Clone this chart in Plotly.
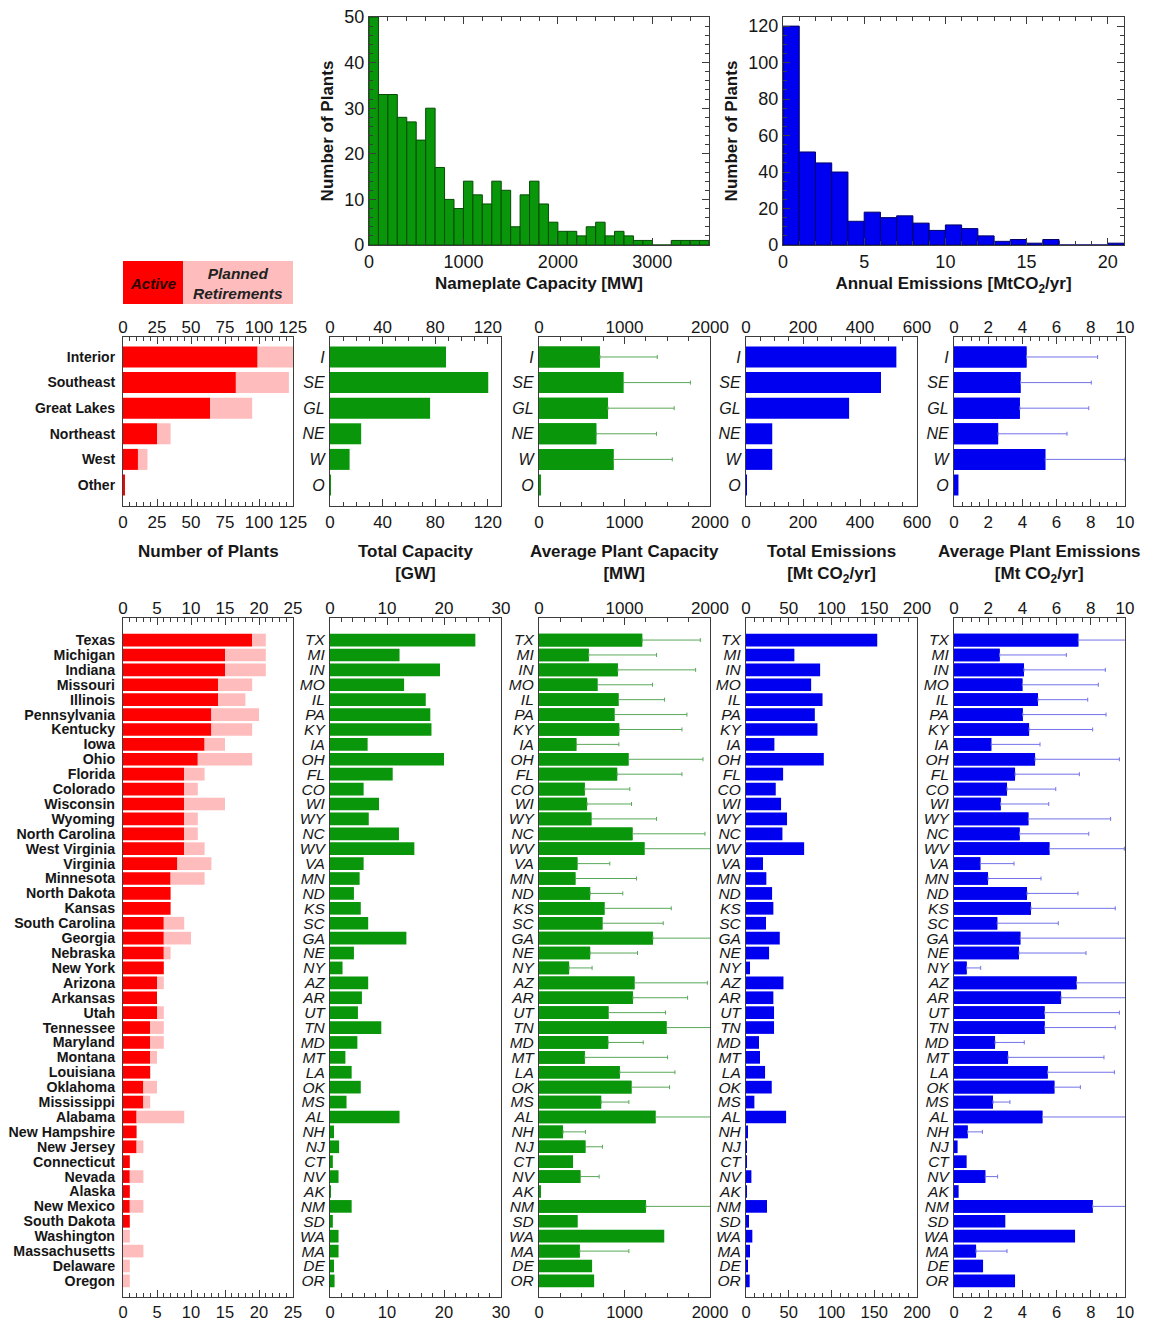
import numpy as np
import plotly.graph_objects as go

W, H = 1156, 1321

# ---------------- histogram data ----------------
cap_counts = [50, 33, 33, 28, 27, 23, 30, 17, 10, 8, 14, 11, 9, 14, 12, 4, 11, 14, 9, 5,
              3, 3, 2, 4, 5, 2, 3, 2, 1, 1, 0, 0, 1, 1, 1, 1]
cap_bin_width = 100          # MW
emis_counts = [120, 51, 45, 40, 13, 18, 15, 16, 12, 8, 11, 9, 5, 2, 3, 1, 3, 0, 0, 0, 1]
emis_bin_width = 1           # MtCO2/yr

# ---------------- regional summary ----------------
regions = ["Interior", "Southeast", "Great Lakes", "Northeast", "West", "Other"]
region_abbr = ["I", "SE", "GL", "NE", "W", "O"]
region_active = [99, 83, 64, 25, 11, 1]
region_retiring = [26, 39, 31, 10, 7, 0]
region_capacity_gw = [88.2, 120.3, 76.1, 23.7, 14.9, 0.1]
region_avg_cap = [713, 987, 806, 670, 872, 20]
region_avg_cap_sd = [670, 784, 775, 704, 687, None]
region_emissions = [527.6, 473.7, 361.8, 92.1, 92.1, 0.3]
region_avg_emis = [4.24, 3.89, 3.85, 2.58, 5.34, 0.26]
region_avg_emis_sd = [4.16, 4.14, 4.03, 4.03, 4.66, None]

# ---------------- state summary ----------------
states = ["Texas", "Michigan", "Indiana", "Missouri", "Illinois", "Pennsylvania", "Kentucky",
          "Iowa", "Ohio", "Florida", "Colorado", "Wisconsin", "Wyoming", "North Carolina",
          "West Virginia", "Virginia", "Minnesota", "North Dakota", "Kansas", "South Carolina",
          "Georgia", "Nebraska", "New York", "Arizona", "Arkansas", "Utah", "Tennessee",
          "Maryland", "Montana", "Louisiana", "Oklahoma", "Mississippi", "Alabama",
          "New Hampshire", "New Jersey", "Connecticut", "Nevada", "Alaska", "New Mexico",
          "South Dakota", "Washington", "Massachusetts", "Delaware", "Oregon"]
state_abbr = ["TX", "MI", "IN", "MO", "IL", "PA", "KY", "IA", "OH", "FL", "CO", "WI", "WY", "NC",
              "WV", "VA", "MN", "ND", "KS", "SC", "GA", "NE", "NY", "AZ", "AR", "UT", "TN", "MD",
              "MT", "LA", "OK", "MS", "AL", "NH", "NJ", "CT", "NV", "AK", "NM", "SD", "WA", "MA",
              "DE", "OR"]
state_active = [19, 15, 15, 14, 14, 13, 13, 12, 11, 9, 9, 9, 9, 9, 9, 8, 7, 7, 7, 6, 6, 6,
                6, 5, 5, 5, 4, 4, 4, 4, 3, 3, 2, 2, 2, 1, 1, 1, 1, 1, 0, 0, 0, 0]
state_retiring = [2, 6, 6, 5, 4, 7, 6, 3, 8, 3, 2, 6, 2, 2, 3, 5, 5, 0, 0, 3, 4, 1,
                  0, 1, 0, 1, 2, 2, 1, 0, 2, 1, 7, 0, 1, 0, 2, 0, 2, 0, 1, 3, 1, 1]
state_capacity_gw = [25.5, 12.2, 19.3, 13.0, 16.8, 17.6, 17.8, 6.6, 20.0, 11.0, 5.9, 8.6, 6.8,
                     12.1, 14.8, 5.9, 5.2, 4.2, 5.4, 6.7, 13.4, 4.2, 2.2, 6.7, 5.6, 4.9, 9.0,
                     4.8, 2.7, 3.8, 5.4, 2.9, 12.2, 0.7, 1.6, 0.5, 1.5, 0.05, 3.8, 0.5, 1.5,
                     1.5, 0.7, 0.8]
state_avg_cap = [1207, 582, 922, 684, 930, 883, 938, 437, 1047, 914, 535, 562, 613, 1094, 1234,
                 449, 426, 598, 766, 742, 1332, 598, 352, 1117, 1098, 813, 1492, 809, 535, 945,
                 1082, 727, 1363, 281, 543, 398, 484, 20, 1250, 453, 1465, 477, 621, 645]
state_avg_cap_sd = [680, 793, 910, 644, 539, 847, 734, 497, 871, 758, 527, 520, 762, 847, 780,
                    379, 715, 382, 781, 711, 800, 554, 269, 852, 640, 667, 700, 410, 969, 645,
                    445, 324, 750, 262, 199, None, 219, None, 800, None, None, 574, None, None]
state_emissions = [153.5, 56.6, 86.7, 76.2, 89.5, 80.5, 83.6, 33.2, 91.0, 43.4, 34.8, 41.0,
                   48.0, 42.6, 68.0, 19.9, 23.8, 30.5, 32.0, 23.4, 39.5, 27.0, 4.7, 43.8, 32.0,
                   32.8, 32.8, 15.2, 16.4, 22.3, 30.1, 9.8, 46.9, 2.0, 0.4, 0.1, 6.3, 0.2, 24.6,
                   3.5, 7.4, 4.7, 2.0, 4.3]
state_avg_emis = [7.27, 2.67, 4.09, 4.00, 4.91, 4.02, 4.39, 2.18, 4.74, 3.57, 3.10, 2.73, 4.35,
                  3.84, 5.58, 1.54, 1.99, 4.27, 4.50, 2.53, 3.88, 3.80, 0.74, 7.17, 6.26, 5.30,
                  5.30, 2.40, 3.16, 5.48, 5.87, 2.28, 5.17, 0.80, 0.21, 0.74, 1.83, 0.27, 8.11,
                  3.00, 7.08, 1.29, 1.70, 3.57]
state_avg_emis_sd = [3.2, 3.90, 4.76, 4.44, 2.91, 4.87, 3.72, 2.85, 4.93, 3.76, 2.85, 2.81,
                     4.81, 4.04, 4.38, 1.97, 3.10, 2.98, 4.93, 3.57, 6.5, 3.92, 0.82, 3.5, 4.2,
                     4.37, 4.13, 1.71, 5.61, 3.90, 1.52, 0.99, 5.5, 0.86, None, None, 0.72,
                     None, 2.5, None, None, 1.81, None, None]

# ---------------- styling ----------------
FONT = "Liberation Sans"
AX = "#3c3c3c"
TXT = "#161616"
GREEN = "#0a960a"
BLUE = "#0000f0"
RED = "#ff0000"
PINK = "#ffbcbc"
GREEN_ERR = "#5aa85a"
BLUE_ERR = "#7373e8"


def dom_x(a, b):
    return [a / W, b / W]


def dom_y(top, bottom):
    return [1 - bottom / H, 1 - top / H]


fig = go.Figure()
layout = dict(
    width=W, height=H, margin=dict(l=0, r=0, t=0, b=0, pad=0, autoexpand=False),
    paper_bgcolor="white", plot_bgcolor="white", showlegend=False,
    barmode="overlay", font=dict(family=FONT, color=TXT),
)


def frame_axis(domain, rng, dtick, minor, anchor, size=17):
    return dict(domain=domain, range=rng, anchor=anchor, tick0=0, dtick=dtick,
                ticks="inside", ticklen=7, tickwidth=1, tickcolor=AX,
                minor=dict(dtick=minor, ticks="inside", ticklen=3.5, tickwidth=1, tickcolor=AX),
                showline=True, linecolor=AX, linewidth=1.2, mirror="ticks",
                showgrid=False, zeroline=False, tickangle=0, automargin=False,
                tickfont=dict(family=FONT, size=size, color=TXT), fixedrange=True)


# ---------------- top histograms ----------------
cap_left = np.arange(len(cap_counts)) * cap_bin_width
fig.add_trace(go.Bar(x=cap_left + cap_bin_width / 2, y=cap_counts, width=cap_bin_width,
                     marker=dict(color=GREEN, line=dict(color="#034d03", width=1)),
                     xaxis="x", yaxis="y", hoverinfo="skip"))
emis_left = np.arange(len(emis_counts)) * emis_bin_width
fig.add_trace(go.Bar(x=emis_left + emis_bin_width / 2, y=emis_counts, width=emis_bin_width,
                     marker=dict(color=BLUE, line=dict(color="#00006a", width=1)),
                     xaxis="x2", yaxis="y2", hoverinfo="skip"))

title_font = dict(family=FONT, size=17, color=TXT)
layout["xaxis"] = frame_axis(dom_x(369, 709), [0, 3600], 1000, 200, "y", size=18)
layout["xaxis"]["title"] = dict(text="<b>Nameplate Capacity [MW]</b>", font=title_font, standoff=6)
layout["yaxis"] = frame_axis(dom_y(17, 245), [0, 50], 10, 2, "x", size=18)
layout["yaxis"]["title"] = dict(text="<b>Number of Plants</b>", font=title_font, standoff=6)
layout["xaxis2"] = frame_axis(dom_x(783, 1124), [0, 21], 5, 1, "y2", size=18)
layout["xaxis2"]["title"] = dict(text="<b>Annual Emissions [MtCO<sub>2</sub>/yr]</b>",
                                 font=title_font, standoff=6)
layout["yaxis2"] = frame_axis(dom_y(17, 245), [0, 125], 20, 5, "x2", size=18)
layout["yaxis2"]["title"] = dict(text="<b>Number of Plants</b>", font=title_font, standoff=6)

# ---------------- bar panels ----------------
columns = [(123, 293), (330, 501), (539, 710), (746, 917), (954, 1125)]
region_scales = [([0, 125], 25, 5), ([0, 130], 40, 10), ([0, 2000], 1000, 250),
                 ([0, 600], 200, 50), ([0, 10], 2, 0.5)]
state_scales = [([0, 25], 5, 1), ([0, 30], 10, 2), ([0, 2000], 1000, 250),
                ([0, 200], 50, 10), ([0, 10], 2, 0.5)]

rows = [
    dict(names=regions, abbr=region_abbr, top=337, bottom=506, pad=(-0.78, 0.82), width=0.82,
         scales=region_scales, name_size=14, abbr_size=16, num_size=17,
         active=region_active, retiring=region_retiring, cap=region_capacity_gw,
         avg_cap=region_avg_cap, avg_cap_sd=region_avg_cap_sd, emis=region_emissions,
         avg_emis=region_avg_emis, avg_emis_sd=region_avg_emis_sd),
    dict(names=states, abbr=state_abbr, top=618, bottom=1297, pad=(-1.48, 1.08), width=0.85,
         scales=state_scales, name_size=14.2, abbr_size=15.5, num_size=16.5,
         active=state_active, retiring=state_retiring, cap=state_capacity_gw,
         avg_cap=state_avg_cap, avg_cap_sd=state_avg_cap_sd, emis=state_emissions,
         avg_emis=state_avg_emis, avg_emis_sd=state_avg_emis_sd),
]

axis_no = 3
top_no = 13
for row in rows:
    n = len(row["names"])
    ypos = list(range(n))
    yrange = [n - 1 + row["pad"][1], row["pad"][0]]
    panels = [
        [(row["active"], RED, None, None), (row["retiring"], PINK, row["active"], None)],
        [(row["cap"], GREEN, None, None)],
        [(row["avg_cap"], GREEN, None, (row["avg_cap_sd"], GREEN_ERR))],
        [(row["emis"], BLUE, None, None)],
        [(row["avg_emis"], BLUE, None, (row["avg_emis_sd"], BLUE_ERR))],
    ]
    for p, ((x0, x1), (rng, dtick, minor), traces) in enumerate(zip(columns, row["scales"], panels)):
        xa, ya = f"x{axis_no}", f"y{axis_no}"
        for vals, color, base, err in traces:
            fig.add_trace(go.Bar(
                x=vals, y=ypos, base=base, orientation="h", width=row["width"],
                marker=dict(color=color, line=dict(width=0)),
                xaxis=xa, yaxis=ya, hoverinfo="skip"))
            if err is not None:
                sd, ecolor = err
                idx = [i for i, s in enumerate(sd) if s is not None]
                fig.add_trace(go.Bar(
                    x=[vals[i] for i in idx], y=[ypos[i] for i in idx], orientation="h",
                    width=row["width"], marker=dict(color=color, line=dict(width=0)),
                    error_x=dict(type="data", symmetric=False,
                                 array=[sd[i] for i in idx], arrayminus=[0] * len(idx),
                                 color=ecolor, thickness=1, width=2),
                    xaxis=xa, yaxis=ya, hoverinfo="skip"))
        layout[f"xaxis{axis_no}"] = frame_axis(dom_x(x0, x1), rng, dtick, minor, ya,
                                               size=row["num_size"])
        if p == 0:
            ticktext = row["names"]
            tfont = dict(family=FONT, size=row["name_size"], color=TXT, weight="bold")
            standoff = 4
        else:
            ticktext = row["abbr"]
            tfont = dict(family=FONT, size=row["abbr_size"], color=TXT, style="italic")
            standoff = 1
        layout[f"yaxis{axis_no}"] = dict(
            domain=dom_y(row["top"], row["bottom"]), range=yrange, anchor=xa,
            tickvals=ypos, ticktext=ticktext, ticks="", tickfont=tfont,
            ticklabelstandoff=standoff, showline=True, mirror=True, linecolor=AX,
            linewidth=1.2, showgrid=False, zeroline=False, fixedrange=True, automargin=False)
        # duplicate scale labels along the top edge
        layout[f"xaxis{top_no}"] = dict(
            overlaying=xa, side="top", anchor=ya, range=rng, tick0=0, dtick=dtick,
            ticks="", showline=False, showgrid=False, zeroline=False, tickangle=0,
            tickfont=dict(family=FONT, size=17, color=TXT), fixedrange=True,
            automargin=False)
        fig.add_trace(go.Scatter(x=[None], y=[None], xaxis=f"x{top_no}", yaxis=ya,
                                 mode="markers", hoverinfo="skip"))
        axis_no += 1
        top_no += 1

# ---------------- panel titles ----------------
panel_titles = ["<b>Number of Plants</b>",
                "<b>Total Capacity<br>[GW]</b>",
                "<b>Average Plant Capacity<br>[MW]</b>",
                "<b>Total Emissions<br>[Mt CO<sub>2</sub>/yr]</b>",
                "<b>Average Plant Emissions<br>[Mt CO<sub>2</sub>/yr]</b>"]
annotations = []
for (x0, x1), t in zip(columns, panel_titles):
    annotations.append(dict(x=(x0 + x1) / 2 / W, y=1 - 540 / H, xref="paper", yref="paper",
                            xanchor="center", yanchor="top", text=t, showarrow=False,
                            font=dict(family=FONT, size=17, color=TXT)))

# ---------------- legend key ----------------
shapes = [
    dict(type="rect", xref="paper", yref="paper", x0=123 / W, x1=183 / W,
         y0=1 - 304 / H, y1=1 - 261 / H, fillcolor=RED, line=dict(width=0)),
    dict(type="rect", xref="paper", yref="paper", x0=183 / W, x1=293 / W,
         y0=1 - 304 / H, y1=1 - 261 / H, fillcolor=PINK, line=dict(width=0)),
]
annotations.append(dict(x=153 / W, y=1 - 283 / H, xref="paper", yref="paper",
                        xanchor="center", yanchor="middle", showarrow=False,
                        text="<b><i>Active</i></b>",
                        font=dict(family=FONT, size=15, color="#2a0000")))
annotations.append(dict(x=238 / W, y=1 - 283 / H, xref="paper", yref="paper",
                        xanchor="center", yanchor="middle", showarrow=False,
                        text="<b><i>Planned<br>Retirements</i></b>",
                        font=dict(family=FONT, size=15.5, color="#222222")))

layout["annotations"] = annotations
layout["shapes"] = shapes
fig.update_layout(**layout)
fig.write_html("out.html")
